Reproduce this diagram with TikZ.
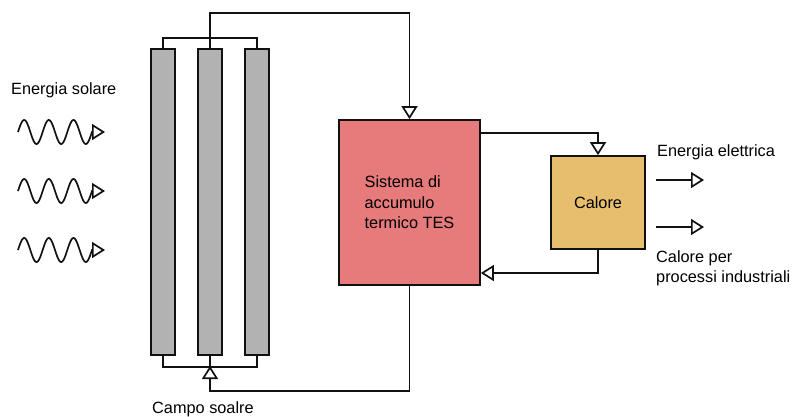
\documentclass[tikz,border=0pt]{standalone}
\usepackage{fontspec}
\setmainfont{Liberation Sans}
\usetikzlibrary{arrows.meta}
\definecolor{barfill}{HTML}{B2B2B2}
\definecolor{tesfill}{HTML}{E77A7A}
\definecolor{calfill}{HTML}{E6BE6E}
\definecolor{lin}{HTML}{111111}
\tikzset{
  ln/.style={draw=lin, line width=1.7pt},
  arr/.style={ln, -{Triangle[open, length=13pt, width=16pt, line width=1.7pt]}},
  bar/.style={ln, fill=barfill, minimum width=24pt, minimum height=306pt, inner sep=0pt},
  txt/.style={font=\fontsize{16.3}{20.5}\selectfont, inner sep=0pt},
}
\begin{document}
\begin{tikzpicture}[x=1pt, y=-1pt]
\useasboundingbox (0,0) rectangle (792,416);
% bars
\node[bar] (b1) at (163,202) {};
\node[bar] (b2) at (210,202) {};
\node[bar] (b3) at (257,202) {};
% boxes
\node[ln, fill=tesfill, minimum width=141pt, minimum height=165pt, inner sep=0pt,
      txt, align=left] (tes) at (409.5,202.5) {Sistema di\\accumulo\\termico TES};
\node[ln, fill=calfill, minimum width=94pt, minimum height=93pt, inner sep=0pt,
      txt] (cal) at (598,202.5) {Calore};
% headers
\draw[ln] (b1.north) -- ++(0,-10) -| (b3.north);
\coordinate (hb) at (210,367);
\draw[ln] (b1.south) -- (b1.south |- hb) -| (b3.south);
\draw[ln] (b2.south) -- (hb);
% connectors
\draw[arr] (b2.north) -- ++(0,-35) -| (tes.north);
\draw[arr] (tes.south) -- (tes.south |- 0,391) -| ([yshift=1pt]hb);
\draw[arr] (tes.east |- 0,133) -| (cal.north);
\draw[arr] (cal.south) |- (tes.east |- 0,273);
% outputs
\coordinate (o1s) at (656,180); \coordinate (o1e) at (704,180);
\coordinate (o2s) at (656,227); \coordinate (o2e) at (704,227);
\draw[arr] (o1s) -- (o1e);
\draw[arr] (o2s) -- (o2e);
% waves
\foreach \yy in {132,191,250}{
  \draw[arr] plot[domain=0:74, samples=120, smooth] ({18+\x},{\yy - 12*sin(\x*14.5946)}) -- (105,\yy);
}
% labels
\node[txt, anchor=base west] (ls) at (11,94) {Energia solare};
\node[txt, anchor=base west] (le) at (657,156) {Energia elettrica};
\node[txt, anchor=base west] (lc1) at (656,262) {Calore per};
\node[txt, anchor=base west] (lc2) at (656,282) {processi industriali};
\node[txt, anchor=base west] (lf) at (152,413) {Campo soalre};
\end{tikzpicture}
\end{document}
